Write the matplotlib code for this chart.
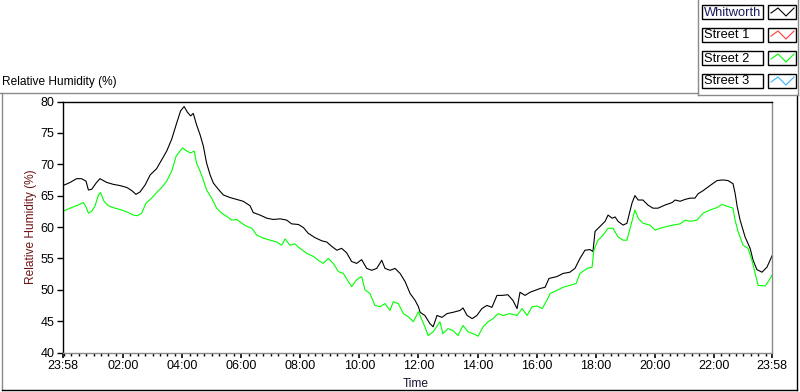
import matplotlib
matplotlib.use("Agg")
import matplotlib.pyplot as plt
from matplotlib.lines import Line2D
from matplotlib.patches import Rectangle

plt.rcParams['font.family'] = ['Liberation Sans', 'DejaVu Sans']

# ---------------- data ----------------
series_names = ["Whitworth", "Street 1", "Street 2", "Street 3"]
series_colors = ["#000000", "#ff3a3a", "#00ff00", "#35b5ff"]

# hours elapsed since the 23:58 start
whitworth_t = [0.00,0.24,0.46,0.63,0.78,0.86,0.97,1.12,1.25,1.48,1.70,1.93,
               2.16,2.33,2.47,2.61,2.78,2.95,3.17,3.34,3.51,3.68,3.85,3.98,
               4.10,4.21,4.32,4.41,4.52,4.64,4.75,4.86,4.98,5.09,5.26,5.43,
               5.65,5.88,6.10,6.33,6.44,6.67,6.90,7.12,7.35,7.57,7.74,7.97,
               8.14,8.30,8.53,8.76,8.93,9.10,9.27,9.43,9.60,9.77,9.94,10.11,
               10.28,10.45,10.62,10.79,10.90,11.07,11.24,11.41,11.58,11.75,11.92,12.03,
               12.09,12.25,12.42,12.53,12.66,12.83,13.00,13.20,13.44,13.54,13.68,13.85,
               14.01,14.18,14.35,14.52,14.69,14.86,15.06,15.23,15.37,15.47,15.64,15.81,
               15.98,16.15,16.32,16.45,16.72,16.93,17.16,17.33,17.50,17.67,17.84,17.94,
               18.01,18.18,18.35,18.45,18.59,18.69,18.79,18.96,19.09,19.26,19.36,19.47,
               19.63,19.80,19.97,20.14,20.38,20.62,20.72,20.89,21.06,21.23,21.39,21.50,
               21.67,21.90,22.14,22.34,22.51,22.68,22.75,22.82,22.92,23.09,23.26,23.36,
               23.49,23.66,23.83,24.00]
whitworth_rh = [66.6,67.1,67.7,67.7,67.3,65.9,66.0,67.0,67.7,67.1,66.8,66.6,
                66.3,65.8,65.2,65.6,66.7,68.3,69.3,70.7,72.1,74.0,76.6,78.5,
                79.2,78.3,77.7,78.1,76.3,74.7,72.9,70.2,68.3,67.0,66.0,65.1,
                64.7,64.4,64.1,63.4,62.3,61.9,61.4,61.2,61.3,61.1,60.5,60.4,
                59.9,59.0,58.3,57.8,57.6,56.9,56.3,56.6,55.9,54.5,54.2,54.8,
                53.4,53.1,53.4,54.7,53.4,53.1,53.4,52.6,51.3,49.4,48.3,47.3,
                46.4,45.9,44.6,44.1,45.9,45.6,46.2,46.4,46.7,47.1,45.9,45.4,
                45.9,47.0,47.5,47.2,49.1,49.1,49.2,48.3,47.0,49.6,49.1,49.6,
                49.9,50.2,50.4,51.8,52.1,52.6,52.8,53.4,55.0,56.3,56.4,56.1,
                59.3,60.1,60.9,61.9,61.4,61.6,60.9,60.3,60.6,63.8,65.0,64.3,
                64.3,63.5,63.0,63.0,63.5,63.9,64.3,64.1,64.4,64.6,64.6,65.3,
                65.8,66.6,67.4,67.5,67.4,66.9,65.4,63.3,61.1,58.4,56.6,54.7,
                53.2,52.8,53.6,55.4]

street1_t = []
street1_rh = []

street2_t = [0.00,0.24,0.46,0.69,0.78,0.86,0.97,1.08,1.20,1.27,1.39,1.53,
             1.76,1.99,2.21,2.38,2.52,2.66,2.81,3.00,3.17,3.34,3.51,3.68,
             3.83,3.96,4.05,4.19,4.32,4.44,4.52,4.64,4.75,4.86,5.03,5.20,
             5.37,5.54,5.71,5.88,6.05,6.22,6.39,6.56,6.79,7.01,7.24,7.40,
             7.52,7.68,7.85,8.02,8.25,8.48,8.64,8.81,8.98,9.15,9.32,9.49,
             9.66,9.77,9.94,10.11,10.22,10.39,10.56,10.73,10.90,11.07,11.18,11.35,
             11.52,11.69,11.86,12.03,12.25,12.36,12.53,12.76,12.86,13.03,13.20,13.37,
             13.54,13.71,13.88,14.05,14.22,14.39,14.56,14.73,14.89,15.13,15.37,15.54,
             15.71,15.88,16.05,16.22,16.38,16.49,16.72,16.93,17.16,17.37,17.50,17.74,
             17.91,17.97,18.11,18.28,18.45,18.62,18.79,18.96,19.09,19.26,19.36,19.47,
             19.63,19.87,20.04,20.21,20.45,20.65,20.89,21.06,21.23,21.46,21.67,21.90,
             22.14,22.31,22.48,22.68,22.75,22.85,23.02,23.19,23.32,23.43,23.53,23.77,
             23.86,24.00]
street2_rh = [62.5,63.0,63.4,63.9,63.2,62.2,62.5,63.3,65.1,65.5,64.1,63.4,
              63.0,62.7,62.3,61.9,61.8,62.2,63.8,64.6,65.5,66.3,67.3,68.9,
              71.3,72.1,72.6,72.1,71.8,72.1,70.2,68.9,67.5,65.9,64.6,63.0,
              62.2,61.7,61.1,61.2,60.6,60.1,59.8,58.7,58.2,57.9,57.6,57.1,
              58.1,57.1,57.3,56.6,55.8,55.3,54.7,54.2,55.0,54.2,52.9,52.6,
              51.3,50.5,51.6,52.1,50.0,49.4,47.5,47.3,47.8,46.7,48.1,47.8,
              46.2,45.7,44.9,46.5,44.1,42.7,43.3,44.9,43.0,43.8,43.5,42.7,
              44.3,43.3,43.0,42.6,44.1,44.9,45.4,46.2,45.9,46.2,45.9,47.0,
              45.9,47.3,47.4,47.0,48.3,49.4,49.9,50.4,50.7,51.0,52.6,53.4,
              53.6,56.3,57.9,58.7,59.8,59.8,58.4,57.9,57.9,60.9,62.7,61.4,
              60.6,60.3,59.5,59.8,60.1,60.3,60.5,61.1,60.9,61.1,62.2,62.7,
              63.1,63.6,63.3,63.0,61.1,59.3,57.1,56.6,54.7,52.6,50.7,50.6,
              51.2,52.3]

street3_t = []
street3_rh = []

x_tick_labels = ["23:58", "02:00", "04:00", "06:00", "08:00", "10:00", "12:00",
                 "14:00", "16:00", "18:00", "20:00", "22:00", "23:58"]
y_ticks = [40, 45, 50, 55, 60, 65, 70, 75, 80]

chart_title = "Relative Humidity (%)"
y_label = "Relative Humidity (%)"
x_label = "Time"

# ---------------- figure ----------------
W, H = 800, 392
fig = plt.figure(figsize=(W / 100, H / 100), dpi=100)

def fx(px):
    return px / W

def fy(py):
    return 1 - py / H

ax_l, ax_r, ax_t, ax_b = 63, 772, 101.5, 352.5
ax = fig.add_axes([fx(ax_l), fy(ax_b), (ax_r - ax_l) / W, (ax_b - ax_t) / H])

all_t = [whitworth_t, street1_t, street2_t, street3_t]
all_v = [whitworth_rh, street1_rh, street2_rh, street3_rh]
for t, v, c in zip(all_t, all_v, series_colors):
    if len(t):
        ax.plot(t, v, color=c, lw=0.8)

ax.set_xlim(0, 24)
ax.set_ylim(40, 80)

# tick positions from the clock labels
start_min = 23 * 60 + 58
pos = []
for i, lab in enumerate(x_tick_labels):
    hh, mm = map(int, lab.split(":"))
    m = (hh * 60 + mm - start_min) % 1440
    if i == len(x_tick_labels) - 1 and m == 0:
        m = 1440
    pos.append(m / 60)
ax.set_xticks(pos)
ax.set_xticklabels(x_tick_labels)
first_clock = (1440 - start_min) / 60  # 00:00
ax.set_xticks([first_clock + 0.25 * k for k in range(96) if first_clock + 0.25 * k <= 24], minor=True)
ax.set_yticks(y_ticks)
ax.set_yticklabels([str(v) for v in y_ticks])

ax.tick_params(axis='both', which='major', direction='out', length=4, width=1,
               color='black', labelsize=9, pad=2, labelcolor='black')
ax.tick_params(axis='x', which='minor', direction='out', length=2.5, width=1, color='black')
ax.tick_params(axis='x', which='major', length=3.5, width=1.2)

for s in ['top', 'left']:
    ax.spines[s].set_color('black')
for s in ['right', 'bottom']:
    ax.spines[s].set_color('#8a8a8a')
for s in ax.spines.values():
    s.set_linewidth(1.0)

# labels
fig.text(fx(2), fy(82), chart_title, fontsize=8.6, ha='left', va='center', color='black')
fig.text(fx(31), fy(227), y_label, fontsize=8.6, rotation=90, ha='center', va='center',
         color='#6e1414')
fig.text(fx(416), fy(384), x_label, fontsize=8.6, ha='center', va='center', color='#141430')

# panel borders
def hline(y, x0, x1, c, lw=1.0):
    fig.add_artist(Line2D([fx(x0), fx(x1)], [fy(y), fy(y)], color=c, lw=lw))

def vline(x, y0, y1, c, lw=1.0):
    fig.add_artist(Line2D([fx(x), fx(x)], [fy(y0), fy(y1)], color=c, lw=lw))

hline(93, 0, 698, '#8a8a8a')
vline(2, 93, 390, '#8a8a8a')
hline(390, 2, 797, 'black')
vline(797, 95, 390, 'black')
vline(698, 0, 95, '#8a8a8a')
hline(95, 698, 798, '#8a8a8a')
vline(798, 0, 95, '#8a8a8a')

# legend
for i, (name, col) in enumerate(zip(series_names, series_colors)):
    top = 5 + 23 * i
    h = 14
    fig.add_artist(Rectangle((fx(702), fy(top + h)), 61 / W, h / H, transform=fig.transFigure,
                             facecolor='white', edgecolor='black', lw=1.0))
    fig.text(fx(704), fy(top + h / 2 + 0.5), name, fontsize=9.3, ha='left', va='center',
             color='#1a1a5a' if i == 0 else 'black')
    fig.add_artist(Rectangle((fx(768), fy(top + h)), 28 / W, h / H, transform=fig.transFigure,
                             facecolor='white', edgecolor='black', lw=1.0))
    zx = [771, 778, 786, 794]
    zy = [top + 8, top + 3, top + 11, top + 3]
    fig.add_artist(Line2D([fx(v) for v in zx], [fy(v) for v in zy], color=col, lw=0.8))

fig.savefig("out.png", dpi=100)
